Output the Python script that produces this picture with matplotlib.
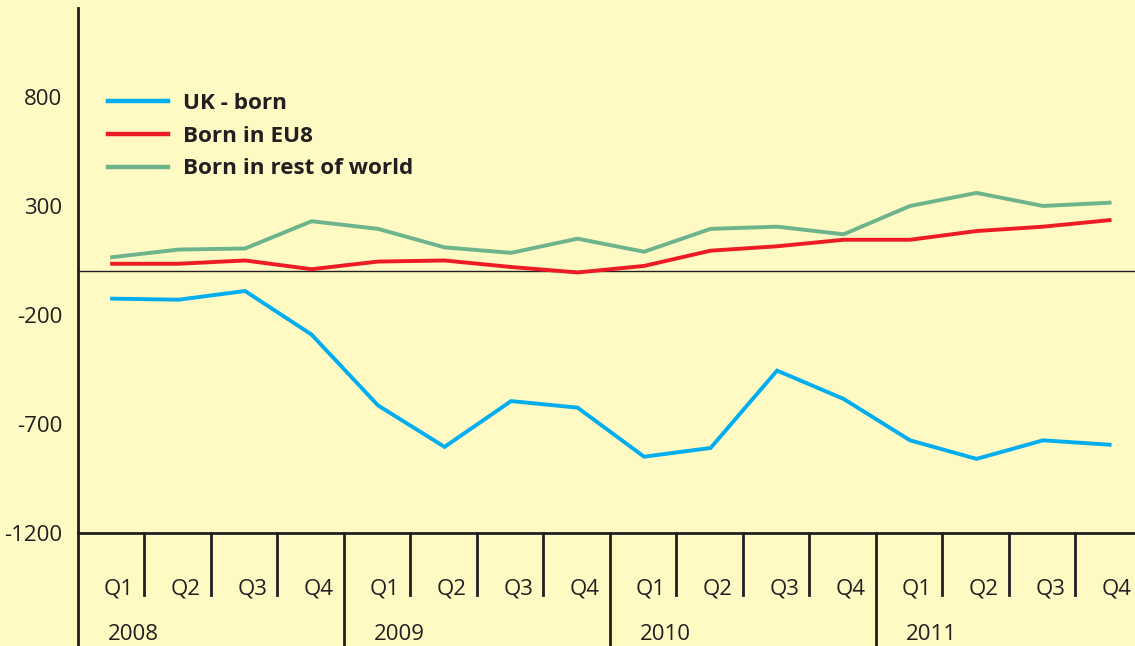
import matplotlib
matplotlib.use('Agg')
import matplotlib.pyplot as plt

plt.rcParams['font.family'] = ['Open Sans', 'DejaVu Sans']

# net change by quarter
quarters = ['Q1', 'Q2', 'Q3', 'Q4'] * 4
years = ['2008', '2009', '2010', '2011']
uk_born = [-125, -130, -90, -290, -615, -805, -595, -625,
           -850, -810, -455, -585, -775, -860, -775, -795]
eu8 = [35, 35, 50, 10, 45, 50, 20, -5,
       25, 95, 115, 145, 145, 185, 205, 235]
rest_world = [65, 100, 105, 230, 195, 110, 85, 150,
              90, 195, 205, 170, 300, 360, 300, 315]
yticks = [800, 300, -200, -700, -1200]

BG = '#FFF9C3'
INK = '#231F20'

W, H = 1135, 646
fig = plt.figure(figsize=(W / 100, H / 100), dpi=100)
fig.patch.set_facecolor(BG)

# axes box in pixels: left 77, bottom line at y=533, top at y=8, ~66.5 px per quarter
ax_l, ax_b, ax_t = 77.5, 533, 8
ax_w = 16 * 66.5
ax = fig.add_axes([ax_l / W, (H - ax_b) / H, ax_w / W, (ax_b - ax_t) / H])
ax.set_facecolor(BG)

x = list(range(len(quarters)))
ax.plot(x, uk_born, color='#00AEEF', lw=2.8, label='UK - born', solid_joinstyle='miter')
ax.plot(x, eu8, color='#ED1C24', lw=2.8, label='Born in EU8', solid_joinstyle='miter')
ax.plot(x, rest_world, color='#6DB38B', lw=2.8, label='Born in rest of world',
        solid_joinstyle='miter')
ax.axhline(0, color=INK, lw=1.0, zorder=1)

ax.set_xlim(-0.52, 15.48)
ax.set_ylim(-1200, 1208)
ax.set_yticks(yticks)
ax.set_yticklabels([str(v) for v in yticks], fontsize=16, color=INK)
ax.tick_params(axis='y', length=0, pad=11)
ax.set_xticks([])

for s in ['top', 'right']:
    ax.spines[s].set_visible(False)
for s in ['left', 'bottom']:
    ax.spines[s].set_color(INK)
    ax.spines[s].set_linewidth(2.0)

# category strip under the plot
ah = ax_b - ax_t
tr = ax.get_xaxis_transform()
q_len = -62 / ah
y_len = -(H - ax_b + 2) / ah
ax.plot([-0.52, -0.52], [0, y_len], transform=tr, color=INK, lw=2.0, clip_on=False)
for i in range(len(quarters)):
    b = i + 0.48
    if i < len(quarters) - 1:
        end = y_len if (i + 1) % 4 == 0 else q_len
        ax.plot([b, b], [0, end], transform=tr, color=INK, lw=2.0, clip_on=False)
    ax.text(b - 0.15, -56 / ah, quarters[i], transform=tr, ha='right', va='center',
            fontsize=16, color=INK)
for k, yr in enumerate(years):
    ax.text(4 * k - 0.06, -101 / ah, yr, transform=tr, ha='left', va='center',
            fontsize=16, color=INK)

leg = ax.legend(loc='upper left', bbox_to_anchor=((108 - ax_l) / ax_w, (ax_b - 93) / ah),
                frameon=False, handlelength=2.65, handletextpad=0.7, labelspacing=0.52,
                borderpad=0, borderaxespad=0,
                prop={'family': ['Open Sans', 'DejaVu Sans'], 'weight': 'bold', 'size': 16.2})
for t in leg.get_texts():
    t.set_color(INK)
for ln in leg.get_lines():
    ln.set_linewidth(3.2)

fig.savefig('out.png', dpi=100, facecolor=BG)
